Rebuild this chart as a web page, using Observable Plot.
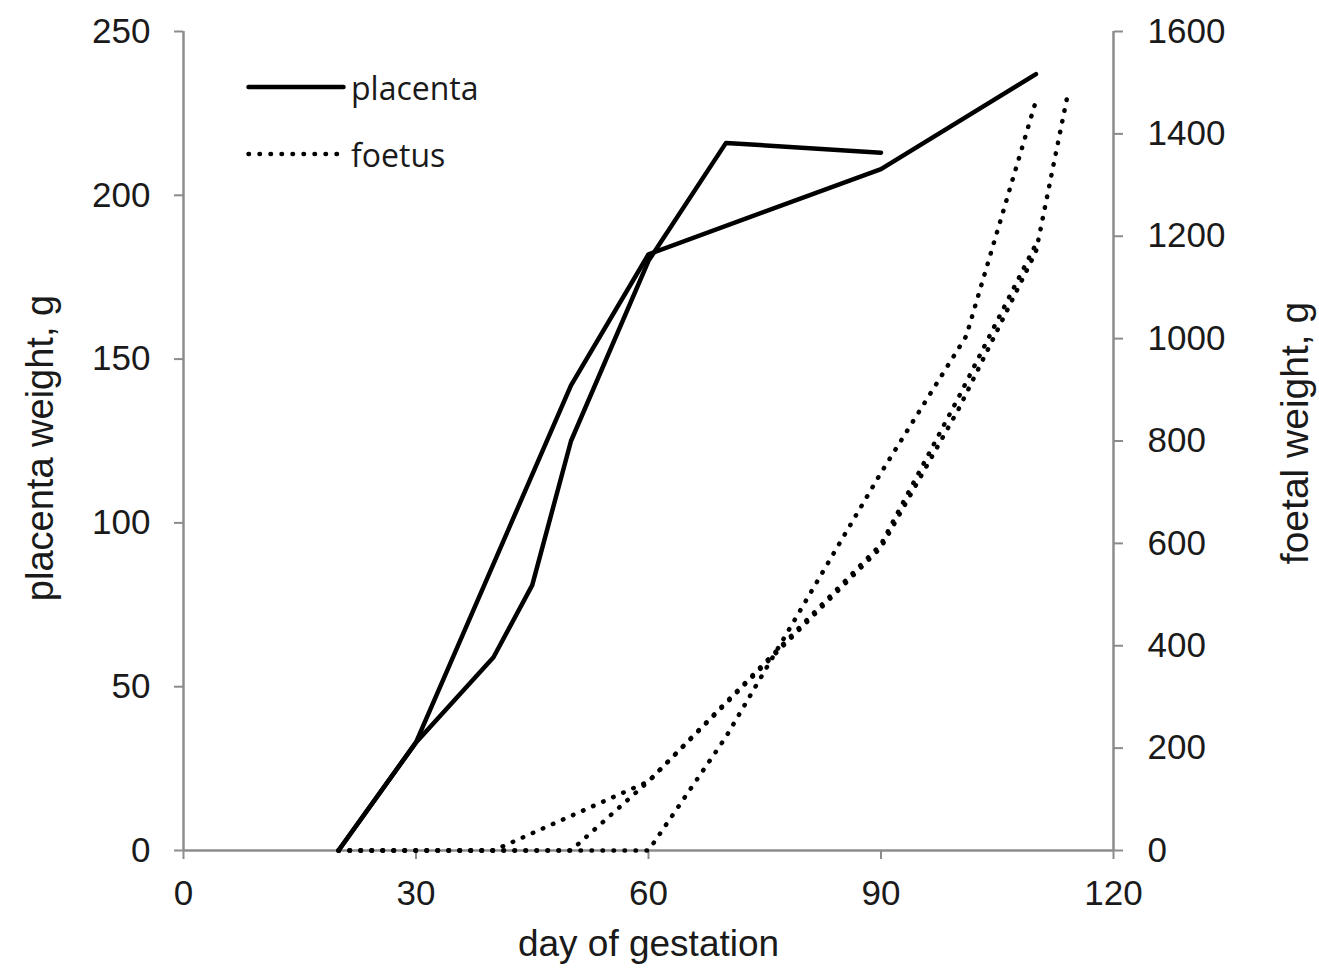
<!DOCTYPE html>
<html>
<head>
<meta charset="utf-8">
<script src="https://cdn.jsdelivr.net/npm/d3@7"></script>
<script src="https://cdn.jsdelivr.net/npm/@observablehq/plot@0.6"></script>
<style>
  html, body { margin: 0; padding: 0; background: #fff; }
  #wrap { position: relative; width: 1319px; height: 970px; }
  #legend { position: absolute; left: 0; top: 0; font-family: "Open Sans", sans-serif; font-size: 32px; color: #1a1a1a; }
  .item { position: absolute; display: flex; align-items: center; white-space: nowrap; }
  .item svg { display: block; margin-right: 5px; }
</style>
</head>
<body>
<div id="wrap"></div>
<script>
// ---- data ----
const xTicks = [0, 30, 60, 90, 120];
const leftTicks = [0, 50, 100, 150, 200, 250];
const rightTicks = [0, 200, 400, 600, 800, 1000, 1200, 1400, 1600];

const placentaDaysA = [20, 30, 50, 60, 90, 110];
const placentaWeightA = [0, 33, 142, 182, 208, 237];
const placentaDaysB = [20, 30, 40, 45, 50, 60, 70, 90];
const placentaWeightB = [0, 33, 59, 81, 125, 180, 216, 213];

const foetusDaysA = [20, 30, 40, 60, 90, 100, 110];
const foetusWeightA = [0, 0, 0, 135, 598, 885, 1185];
const foetusDaysB = [20, 30, 40, 50, 60, 90, 100, 110, 114];
const foetusWeightB = [0, 0, 0, 0, 135, 592, 862, 1170, 1470];
const foetusDaysC = [20, 30, 40, 50, 60, 70, 90, 101, 110];
const foetusWeightC = [0, 0, 0, 0, 0, 222, 738, 1005, 1465];

const legendLabels = ["placenta", "foetus"];
const xLabel = "day of gestation";
const yLabelLeft = "placenta weight, g";
const yLabelRight = "foetal weight, g";

// ---- build tables ----
const k = 250 / 1600; // right axis -> left axis
const zip = (days, w) => days.map((d, i) => ({day: d, w: w[i]}));
const plA = zip(placentaDaysA, placentaWeightA);
const plB = zip(placentaDaysB, placentaWeightB);
const fA = zip(foetusDaysA, foetusWeightA);
const fB = zip(foetusDaysB, foetusWeightB);
const fC = zip(foetusDaysC, foetusWeightC);

const axisGray = "#8c8c8c";
const solid = {x: "day", y: "w", stroke: "#000", strokeWidth: 4.5, strokeLinejoin: "round", strokeLinecap: "round"};
const dotted = {x: "day", y: d => d.w * k, stroke: "#000", strokeWidth: 4.5, strokeDasharray: "0.5 10.5", strokeLinecap: "round"};

const chart = Plot.plot({
  width: 1319,
  height: 970,
  marginTop: 31,
  marginBottom: 120,
  marginLeft: 183,
  marginRight: 206,
  style: {fontFamily: "'Liberation Sans', Arial, sans-serif", fontSize: "35px", color: "#1a1a1a", background: "#fff"},
  x: {domain: [0, 120]},
  y: {domain: [0, 250]},
  marks: [
    Plot.axisX(xTicks, {anchor: "bottom", tickSize: 9, tickPadding: 21, stroke: axisGray, strokeWidth: 2, fill: "#1a1a1a", label: null}),
    Plot.axisY(leftTicks, {anchor: "left", tickSize: 9, tickPadding: 24, stroke: axisGray, strokeWidth: 2, fill: "#1a1a1a", label: null}),
    Plot.axisY(rightTicks.map(v => v * k), {anchor: "right", tickSize: 9, tickPadding: 25, stroke: axisGray, strokeWidth: 2, fill: "#1a1a1a", tickFormat: d => String(Math.round(d / k)), label: null}),
    Plot.ruleX([0, 120], {stroke: axisGray, strokeWidth: 2.5}),
    Plot.ruleY([0], {stroke: axisGray, strokeWidth: 2.5}),
    Plot.line(fA, dotted),
    Plot.line(fB, dotted),
    Plot.line(fC, dotted),
    Plot.line(plA, solid),
    Plot.line(plB, solid),
    Plot.text([yLabelLeft], {frameAnchor: "left", dx: -143, dy: 7, rotate: -90, textAnchor: "middle", fill: "#1a1a1a", fontSize: 38}),
    Plot.text([yLabelRight], {frameAnchor: "right", dx: 182, dy: -8, rotate: -90, textAnchor: "middle", fill: "#1a1a1a", fontSize: 39}),
    Plot.text([xLabel], {frameAnchor: "bottom", dy: 105, textAnchor: "middle", fill: "#1a1a1a", fontSize: 37})
  ]
});

const wrap = document.getElementById("wrap");
wrap.appendChild(chart);

// legend overlay (HTML)
const legend = document.createElement("div");
legend.id = "legend";
const styles = [
  {dash: null, top: 87},
  {dash: "0.5 10.5", top: 154}
];
legendLabels.forEach((lab, i) => {
  const it = document.createElement("div");
  it.className = "item";
  it.style.left = "246px";
  it.style.top = (styles[i].top - 22) + "px";
  it.style.height = "44px";
  const ns = "http://www.w3.org/2000/svg";
  const s = document.createElementNS(ns, "svg");
  s.setAttribute("width", "100");
  s.setAttribute("height", "10");
  const l = document.createElementNS(ns, "line");
  l.setAttribute("x1", "2.5"); l.setAttribute("x2", "97.5");
  l.setAttribute("y1", "5"); l.setAttribute("y2", "5");
  l.setAttribute("stroke", "#000");
  l.setAttribute("stroke-width", "4.5");
  l.setAttribute("stroke-linecap", "round");
  if (styles[i].dash) l.setAttribute("stroke-dasharray", styles[i].dash);
  s.appendChild(l);
  it.appendChild(s);
  const t = document.createElement("span");
  t.textContent = lab;
  it.appendChild(t);
  legend.appendChild(it);
});
wrap.appendChild(legend);
</script>
</body>
</html>
